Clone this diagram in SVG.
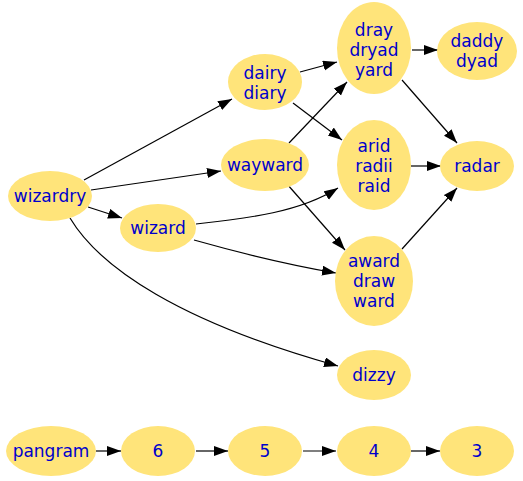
<svg xmlns="http://www.w3.org/2000/svg" width="523" height="481" viewBox="0 0 523 481">
<style>
.n ellipse{fill:#ffe47a;stroke:none}
.n text{font-family:"DejaVu Sans",Verdana,sans-serif;font-size:17px;fill:#0000cc;text-anchor:middle}
.e path,.e line{stroke:#000;stroke-width:1.2;fill:none;marker-end:url(#a)}
</style>
<defs>
<marker id="a" markerUnits="userSpaceOnUse" markerWidth="16" markerHeight="11" refX="14" refY="5" orient="auto">
<path d="M0,0 L14,5 L0,10 z" fill="#000"/>
</marker>
</defs>
<rect width="523" height="481" fill="#fff"/>
<g class="e" id="edges">
<line x1="84" y1="180" x2="232" y2="99"/>
<line x1="91" y1="190" x2="221" y2="171"/>
<line x1="88" y1="207" x2="122" y2="218"/>
<path d="M70,218 C100,268 180,322 338,366"/>
<path d="M196,224 C250,218 300,212 338,188"/>
<path d="M194,240 C240,253 290,265 336,273"/>
<line x1="289" y1="143" x2="347" y2="82"/>
<line x1="287" y1="184" x2="345" y2="250"/>
<line x1="300" y1="72" x2="337" y2="62"/>
<line x1="293" y1="103" x2="342" y2="140"/>
<line x1="412" y1="50" x2="438" y2="50"/>
<line x1="402" y1="80" x2="457" y2="143"/>
<line x1="411" y1="166" x2="441" y2="166"/>
<line x1="402" y1="249" x2="457" y2="188"/>
<line x1="96" y1="451" x2="121" y2="451"/>
<line x1="196" y1="451" x2="228" y2="451"/>
<line x1="303" y1="451" x2="336" y2="451"/>
<line x1="411" y1="451" x2="440" y2="451"/>
</g>
<g class="n" id="wizardry"><ellipse cx="50" cy="196" rx="42" ry="25"/><text x="50" y="202">wizardry</text></g>
<g class="n" id="wizard"><ellipse cx="158" cy="228" rx="38" ry="24"/><text x="158" y="234">wizard</text></g>
<g class="n" id="dairy"><ellipse cx="265" cy="82" rx="37" ry="28"/><text x="265" y="79">dairy</text><text x="265" y="99">diary</text></g>
<g class="n" id="wayward"><ellipse cx="265" cy="165" rx="44" ry="26"/><text x="265" y="171">wayward</text></g>
<g class="n" id="dray"><ellipse cx="374" cy="48" rx="37" ry="46"/><text x="374" y="36">dray</text><text x="374" y="56">dryad</text><text x="374" y="76">yard</text></g>
<g class="n" id="daddy"><ellipse cx="477" cy="51" rx="40" ry="29"/><text x="477" y="47">daddy</text><text x="477" y="67">dyad</text></g>
<g class="n" id="arid"><ellipse cx="374" cy="165" rx="37" ry="45"/><text x="374" y="152">arid</text><text x="374" y="172">radii</text><text x="374" y="192">raid</text></g>
<g class="n" id="radar"><ellipse cx="477" cy="166" rx="37" ry="25"/><text x="477" y="172">radar</text></g>
<g class="n" id="award"><ellipse cx="374" cy="281" rx="39" ry="45"/><text x="374" y="267">award</text><text x="374" y="287">draw</text><text x="374" y="307">ward</text></g>
<g class="n" id="dizzy"><ellipse cx="374" cy="375" rx="37" ry="25"/><text x="374" y="381">dizzy</text></g>
<g class="n" id="pangram"><ellipse cx="51" cy="451" rx="45" ry="25"/><text x="51" y="457">pangram</text></g>
<g class="n" id="n6"><ellipse cx="158" cy="451" rx="37" ry="25"/><text x="158" y="457">6</text></g>
<g class="n" id="n5"><ellipse cx="265" cy="451" rx="37" ry="25"/><text x="265" y="457">5</text></g>
<g class="n" id="n4"><ellipse cx="374" cy="451" rx="37" ry="25"/><text x="374" y="457">4</text></g>
<g class="n" id="n3"><ellipse cx="477" cy="451" rx="37" ry="25"/><text x="477" y="457">3</text></g>
</svg>
